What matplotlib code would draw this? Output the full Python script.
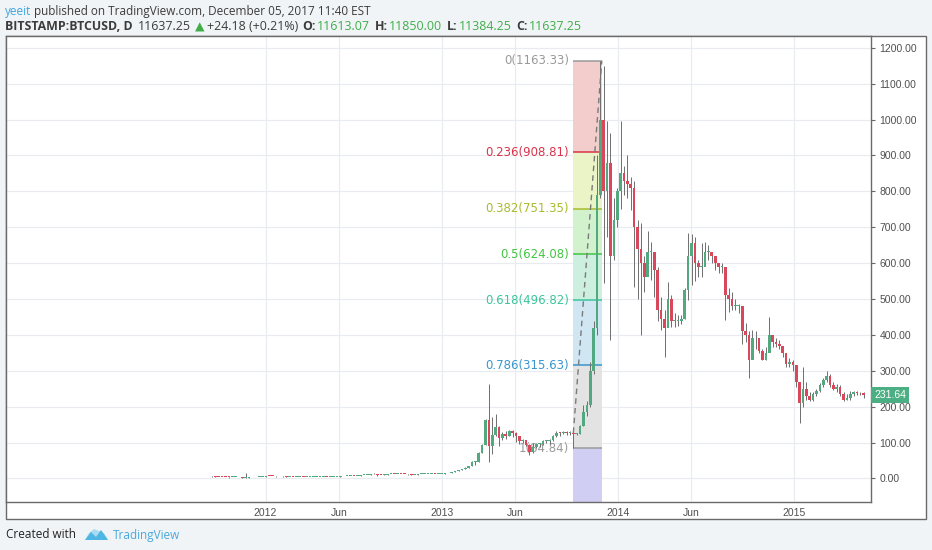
import numpy as np
import pandas as pd
import matplotlib
matplotlib.use("Agg")
from matplotlib import pyplot as plt
import matplotlib.dates as mdates
from matplotlib.patches import Rectangle, Polygon
from matplotlib.transforms import blended_transform_factory

# weekly BTCUSD (Bitstamp), week starting 2011-09-12
first_open = 5.8
closes = [
    5.6, 5.3, 5.1,  4.8, 4.1, 3.2, 3.2, 3.2,  3.0, 2.3, 2.5, 3.0,  3.0, 3.2, 3.9, 4.7,
    # 2012
    6.8, 6.7, 6.3, 5.7, 6.1,  5.8, 4.4, 5.0, 4.9,  4.9, 5.3, 4.7, 4.9,  4.9, 4.9, 5.1, 5.1, 5.1,
    5.0, 5.1, 5.2, 5.3,  5.6, 6.4, 6.4, 6.7,  6.6, 7.6, 8.7, 8.8, 10.8,  11.2, 13.3, 10.3, 10.2,
    11.0, 11.5, 12.4, 12.3,  12.7, 11.9, 11.8, 11.2, 10.7,  10.9, 11.4, 12.2, 12.5,  13.2, 13.5, 13.4, 13.4, 13.5,
    # 2013
    14.1, 15.5, 17.4, 20.4,  22.7, 27.0, 29.9, 34.5,  46.8, 47.0, 71.0, 93.0,  162, 90, 120, 144, 112,
    125, 118, 133, 128,  118, 105, 108, 94,  75, 88, 95, 96, 105,  105, 108, 118, 127,
    126, 129, 126, 128, 125,  125, 145, 185, 205,  300, 420, 790, 1000,  800, 880, 620, 720, 800,
    # 2014
    850, 830, 820, 810,  700, 640, 600, 560,  630, 630, 580, 470, 445,  420, 500, 440, 440,
    440, 445, 525, 620,  655, 600, 590, 590, 630,  630, 620, 600, 590,  590, 510, 500, 480,
    480, 480, 410, 400, 330,  390, 390, 355, 330,  350, 400, 380, 375,  370, 350, 320, 325, 315,
    # 2015
    270, 210, 250, 230,  220, 235, 245, 260,  275, 285, 260, 250, 255,  235, 220, 225, 235,
    240, 238, 237, 231.64,
]
highs = [
    6.0, 5.9, 5.4,  5.2, 4.9, 4.2, 3.6, 3.6,  3.3, 3.0, 14.0, 3.2,  3.3, 3.4, 4.0, 4.9,
    7.2, 7.3, 6.9, 6.4, 6.3,  6.1, 5.8, 5.1, 5.0,  5.1, 5.5, 5.3, 5.0,  5.0, 5.0, 5.2, 5.2, 5.2,
    5.1, 5.1, 5.2, 5.4,  5.7, 6.6, 6.6, 6.8,  6.9, 7.8, 9.0, 9.3, 11.0,  11.5, 15.4, 13.3, 11.0,
    11.2, 11.7, 12.6, 12.6,  12.9, 12.7, 12.0, 11.8, 11.2,  11.0, 11.6, 12.5, 12.7,  13.5, 13.7, 13.6, 13.6, 13.7,
    14.3, 15.8, 17.8, 20.8,  23.0, 27.5, 31.0, 35.0,  48.0, 48.4, 75.0, 95.0,  165, 262, 172, 180, 145,
    130, 132, 135, 135,  130, 118, 111, 108,  95, 99, 100, 99, 108,  108, 110, 120, 132,
    130, 133, 131, 131, 140,  128, 150, 205, 215,  325, 440, 900, 1163,  1150, 995, 962, 780, 810,
    995, 870, 900, 840,  830, 720, 711, 620,  690, 660, 620, 590, 506,  470, 547, 510, 460,
    455, 455, 530, 683,  680, 672, 610, 655, 660,  650, 630, 620, 600,  600, 525, 530, 520,
    500, 485, 480, 432, 410,  413, 410, 390, 360,  365, 450, 400, 390,  385, 370, 350, 335, 330,
    300, 270, 311, 270,  240, 240, 250, 265,  280, 300, 290, 270, 262,  260, 240, 235, 245,
    245, 245, 242, 240,
]
lows = [
    4.8, 4.9, 4.7,  4.3, 3.8, 2.4, 2.8, 2.9,  2.8, 2.0, 2.2, 2.5,  2.8, 3.0, 3.2, 3.8,
    4.8, 6.0, 5.9, 5.5, 5.7,  5.5, 4.2, 4.3, 4.7,  4.7, 4.8, 4.6, 4.7,  4.8, 4.8, 4.9, 5.0, 5.0,
    4.9, 4.9, 5.0, 5.1,  5.3, 5.6, 6.2, 6.3,  6.4, 6.6, 7.6, 8.4, 8.8,  10.6, 11.2, 7.5, 10.0,
    10.1, 11.0, 11.5, 12.1,  12.2, 11.6, 11.5, 10.3, 10.5,  10.6, 10.8, 11.3, 12.0,  12.4, 13.1, 13.1, 13.2, 13.1,
    13.5, 14.0, 15.5, 17.3,  20.0, 22.5, 26.0, 29.5,  34.0, 37.0, 46.0, 70.0,  93, 47, 68, 118, 90,
    108, 110, 117, 116,  102, 95, 98, 90,  65, 70, 86, 89, 92,  100, 96, 104, 115,
    117, 125, 122, 122, 85,  121, 124, 145, 175,  200, 290, 400, 780,  545, 673, 386, 610, 700,
    750, 790, 780, 748,  533, 500, 400, 520,  572, 553, 506, 440, 413,  338, 488, 422, 422,
    425, 430, 445, 497,  539, 550, 560, 560, 600,  608, 600, 580, 572,  572, 441, 465, 470,
    470, 460, 376, 380, 280,  380, 360, 350, 330,  330, 377, 366, 366,  360, 339, 311, 310, 300,
    255, 155, 200, 220,  215, 215, 230, 240,  255, 270, 255, 247, 240,  230, 215, 220, 220,
    230, 232, 232, 225,
]

fib_levels = [0, 0.236, 0.382, 0.5, 0.618, 0.786, 1]
fib_prices = [1163.33, 908.81, 751.35, 624.08, 496.82, 315.63, 84.84]
fib_start = "2013-09-30"
fib_end = "2013-11-28"
trend_low = 127

price_ticks = list(range(0, 1300, 100))
time_ticks = ["2012-01-01", "2012-06-01", "2013-01-01", "2013-06-01", "2014-01-01", "2014-06-01", "2015-01-01"]
time_labels = ["2012", "Jun", "2013", "Jun", "2014", "Jun", "2015"]

line_colors = ["#9a9a9a", "#d9334b", "#a9bb2e", "#43c443", "#3cc59a", "#3896d0", "#9a9a9a"]
fill_colors = ["#f3cccc", "#ebf4c7", "#d2f1cd", "#ccefdf", "#d1e6f3", "#e3e3e3", "#d1cef3"]

W, H = 932, 550


def fx(px):
    return px / W


def fy(py):
    return 1 - py / H


dates = pd.date_range("2011-09-12", periods=len(closes), freq="7D")
x = mdates.date2num(dates)
c = np.array(closes, dtype=float)
o = np.concatenate([[first_open], c[:-1]])
hi = np.array(highs, dtype=float)
lo = np.array(lows, dtype=float)

fig = plt.figure(figsize=(W / 100, H / 100), dpi=100)
fig.patch.set_facecolor("#f1f4f7")

# outer white frame round chart and both axis strips
fig.add_artist(Rectangle((fx(6), fy(518.5)), fx(926) - fx(6), fy(36) - fy(518.5),
                         transform=fig.transFigure, facecolor="white", edgecolor="#6a6a6a",
                         linewidth=1, zorder=-1))

ax = fig.add_axes([fx(6), fy(502), fx(871) - fx(6), fy(36) - fy(502)])
ax.set_facecolor("white")
for s in ax.spines.values():
    s.set_color("#6a6a6a")
    s.set_linewidth(1)

ax.set_xlim(mdates.date2num(pd.Timestamp("2010-07-12")), mdates.date2num(pd.Timestamp("2015-06-09")))
ax.set_ylim(-65.5, 1232.6)

ax.set_xticks(mdates.date2num(pd.to_datetime(time_ticks)))
ax.set_xticklabels(time_labels)
ax.set_yticks(price_ticks)
ax.set_yticklabels(["%.2f" % p for p in price_ticks])
ax.yaxis.tick_right()
ax.tick_params(axis="y", direction="out", length=3, color="#6a6a6a", labelsize=7.5,
               labelcolor="#505050", pad=3)
ax.tick_params(axis="x", length=0, labelsize=7.5, labelcolor="#505050", pad=4)
for lab in ax.get_xticklabels() + ax.get_yticklabels():
    lab.set_family("Liberation Sans")
ax.grid(True, color="#e8ecf0", linewidth=0.8)
ax.set_axisbelow(True)

# fib retracement
x0 = mdates.date2num(pd.Timestamp(fib_start))
x1 = mdates.date2num(pd.Timestamp(fib_end))
bounds = fib_prices + [-65.5]
for i in range(len(fill_colors)):
    ax.fill_between([x0, x1], bounds[i + 1], bounds[i], color=fill_colors[i], linewidth=0, zorder=1)
for lvl, p, col in zip(fib_levels, fib_prices, line_colors):
    ax.hlines(p, x0, x1, color=col, linewidth=1.1, zorder=2)
    ax.annotate("%g(%.2f)" % (lvl, p), (x0, p), xytext=(-3, 0), textcoords="offset points",
                ha="right", va="center", color=col, fontsize=8.5, family="DejaVu Sans", zorder=2)
ax.plot([x0, x1], [trend_low, fib_prices[0]], color="#7a7a7a", linestyle=(0, (4, 3)),
        linewidth=1.0, zorder=4)

# candles
up = c >= o
body_col = np.where(up, "#53a97f", "#d9485a")
ax.vlines(x, lo, hi, color="#6e6e6e", linewidth=0.7, zorder=3)
ax.bar(x, np.maximum(np.abs(c - o), 2.5), bottom=np.minimum(o, c), width=5.5,
       color=body_col, linewidth=0, zorder=3)

# last price tag
tr = blended_transform_factory(ax.transAxes, ax.transData)
ax.text(1.004, c[-1], "%.2f" % c[-1], transform=tr, ha="left", va="center", fontsize=7.5,
        family="Liberation Sans", color="white",
        bbox=dict(boxstyle="square,pad=0.3", facecolor="#4caf84", edgecolor="none"), clip_on=False)


def text_run(px, py, pieces, size=8.5):
    r = fig.canvas.get_renderer()
    cur = fx(px)
    for txt, col, wt, gap in pieces:
        t = fig.text(cur, fy(py), txt, color=col, fontsize=size, fontweight=wt, va="center",
                     ha="left", family=["Open Sans", "DejaVu Sans"])
        cur += (t.get_window_extent(renderer=r).width + gap) / W


dark = "#3c3c3c"
green = "#3fae49"
text_run(5, 11, [("yeeit", "#3fa6e0", "normal", 3),
                 ("published on TradingView.com, December 05, 2017 11:40 EST", dark, "normal", 0)])
text_run(5, 27, [("BITSTAMP:BTCUSD, D", dark, "bold", 5),
                 ("11637.25", dark, "normal", 4),
                 ("▲", green, "normal", 3),
                 ("+24.18 (+0.21%)", dark, "normal", 4),
                 ("O:", dark, "bold", 1), ("11613.07", green, "normal", 5),
                 ("H:", dark, "bold", 1), ("11850.00", green, "normal", 5),
                 ("L:", dark, "bold", 1), ("11384.25", green, "normal", 5),
                 ("C:", dark, "bold", 1), ("11637.25", green, "normal", 0)], size=8.9)

# footer
fig.text(fx(6), fy(535), "Created with", color="#222222", fontsize=8.5, va="center",
         family="Open Sans")
fig.add_artist(Polygon([(fx(85), fy(540)), (fx(89), fy(533)), (fx(94), fy(529)), (fx(99), fy(531)),
                        (fx(104), fy(533)), (fx(108), fy(540))],
                       closed=True, transform=fig.transFigure, facecolor="#a9dcf2", edgecolor="none"))
fig.add_artist(Polygon([(fx(85), fy(540)), (fx(91), fy(532)), (fx(96), fy(537)), (fx(101), fy(530)),
                        (fx(108), fy(540))],
                       closed=True, transform=fig.transFigure, facecolor="#4fb6e3", edgecolor="none"))
fig.text(fx(113), fy(535), "TradingView", color="#4ba8dc", fontsize=8.5, va="center",
         family="Open Sans")

fig.savefig("out.png", dpi=100, facecolor=fig.get_facecolor())
